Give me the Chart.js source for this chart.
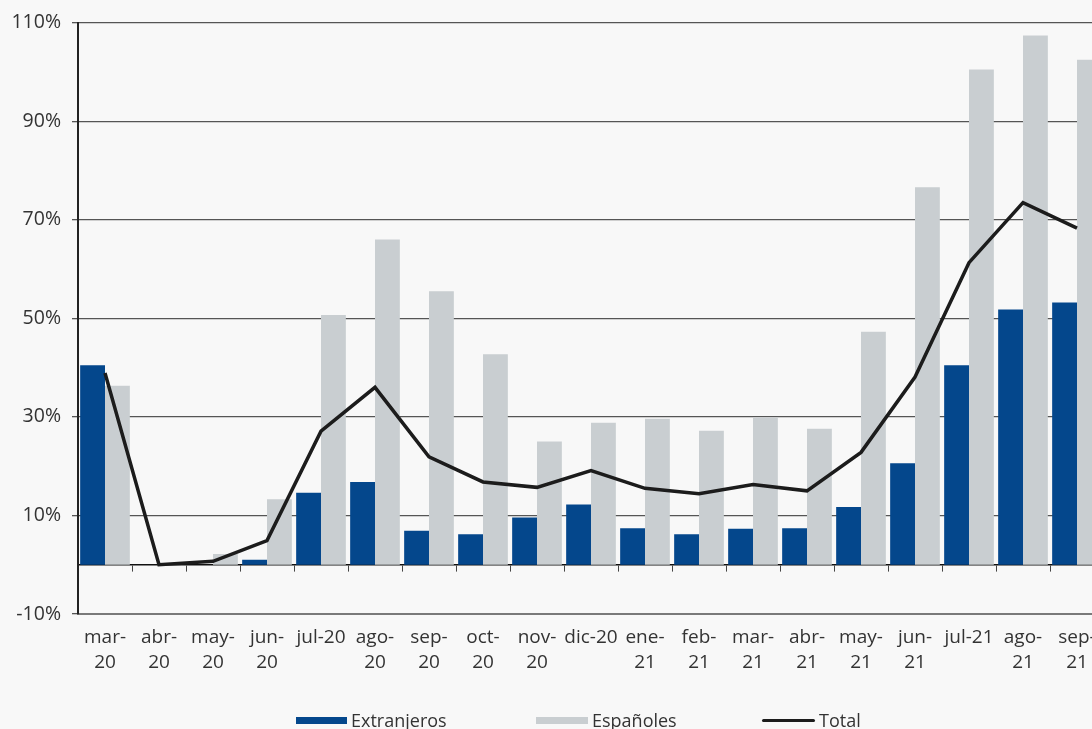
<!DOCTYPE html>
<html>
<head>
<meta charset="utf-8">
<script src="https://cdn.jsdelivr.net/npm/chart.js@4/dist/chart.umd.min.js"></script>
<style>
  html, body { margin: 0; padding: 0; background: #f8f8f8; overflow: hidden; width: 1092px; height: 729px; }
  #wrap { position: absolute; left: 0; top: 0; width: 1110px; height: 729px; }
  #legend { position: absolute; left: 0; top: 0; width: 1092px; height: 729px; pointer-events: none;
            font-family: "Open Sans", "Noto Sans", sans-serif; font-size: 18px; color: #333; }
  .sw { position: absolute; }
  .lt { position: absolute; top: 709px; line-height: 22px; white-space: nowrap; }
</style>
</head>
<body>
<div id="wrap"><canvas id="c" width="1110" height="729"></canvas></div>
<div id="legend"></div>
<script>
// ---- data ----
const categories = [
  ["mar-","20"], ["abr-","20"], ["may-","20"], ["jun-","20"], "jul-20", ["ago-","20"],
  ["sep-","20"], ["oct-","20"], ["nov-","20"], "dic-20", ["ene-","21"], ["feb-","21"],
  ["mar-","21"], ["abr-","21"], ["may-","21"], ["jun-","21"], "jul-21", ["ago-","21"], ["sep-","21"]
];
const extranjeros = [40.5, 0, 0, 1.0, 14.6, 16.8, 6.9, 6.2, 9.6, 12.2, 7.4, 6.2, 7.3, 7.4, 11.7, 20.6, 40.5, 51.8, 53.2];
const espanoles   = [36.3, 0, 2.2, 13.3, 50.7, 66.0, 55.5, 42.7, 25.0, 28.8, 29.6, 27.2, 29.9, 27.6, 47.3, 76.6, 100.5, 107.4, 102.5];
const total       = [38.9, 0, 0.7, 4.9, 27.1, 36.0, 21.9, 16.8, 15.7, 19.1, 15.5, 14.4, 16.3, 15.0, 22.8, 38.1, 61.3, 73.5, 68.3];
const yTicks = [-10, 10, 30, 50, 70, 90, 110];
const seriesNames = ["Extranjeros", "Españoles", "Total"];
const colors = { ext: "#04478c", esp: "#c9ced1", tot: "#1c1c1c" };

const FONT = '"Open Sans", "Noto Sans", sans-serif';

const chart = new Chart(document.getElementById('c'), {
  data: {
    labels: categories,
    datasets: [
      { type: 'line', label: seriesNames[2], data: total, borderColor: colors.tot, borderWidth: 3.5,
        pointRadius: 0, tension: 0, fill: false, order: 0, xAxisID: 'x', yAxisID: 'y',
        borderJoinStyle: 'miter' },
      { type: 'bar', label: seriesNames[0], data: extranjeros, backgroundColor: colors.ext,
        categoryPercentage: 0.92, barPercentage: 1.0, order: 1, xAxisID: 'x', yAxisID: 'y' },
      { type: 'bar', label: seriesNames[1], data: espanoles, backgroundColor: colors.esp,
        categoryPercentage: 0.92, barPercentage: 1.0, order: 1, xAxisID: 'x', yAxisID: 'y' }
    ]
  },
  options: {
    responsive: false,
    animation: false,
    layout: { padding: { top: 22, right: 6, left: 0, bottom: 0 } },
    plugins: { legend: { display: false }, tooltip: { enabled: false } },
    scales: {
      x: {
        type: 'category',
        position: 'bottom',
        offset: true,
        grid: { display: false, drawTicks: false },
        border: { display: true, color: '#7a7a7a', width: 2 },
        ticks: { font: { family: FONT, size: 19, lineHeight: 1.32 }, color: '#333',
                 maxRotation: 0, minRotation: 0, autoSkip: false, padding: 11 },
        afterFit: s => { s.height = 115; }
      },
      x2: {
        type: 'category',
        axis: 'x',
        position: { y: 0 },
        offset: true,
        grid: { display: true, drawOnChartArea: false, drawTicks: true, tickLength: 6,
                offset: true, color: '#444', lineWidth: 1 },
        border: { display: true, color: '#111', width: 1.6 },
        ticks: { display: false }
      },
      y: {
        type: 'linear',
        position: 'left',
        min: yTicks[0],
        max: yTicks[yTicks.length - 1],
        afterBuildTicks: s => { s.ticks = yTicks.map(v => ({ value: v })); },
        grid: { color: '#555', lineWidth: 1.3, drawTicks: true, tickLength: 6 },
        border: { display: true, color: '#222', width: 2 },
        ticks: { font: { family: FONT, size: 19.5 }, color: '#333', padding: 11,
                 callback: v => v + '%' },
        afterFit: s => { s.width = 78; }
      }
    }
  }
});

// ---- HTML legend ----
const lg = document.getElementById('legend');
const items = [
  { name: seriesNames[0], kind: 'box', color: colors.ext, x: 296, w: 51 },
  { name: seriesNames[1], kind: 'box', color: colors.esp, x: 536, w: 52 },
  { name: seriesNames[2], kind: 'line', color: colors.tot, x: 762, w: 53 }
];
items.forEach(it => {
  const sw = document.createElement('div');
  sw.className = 'sw';
  sw.style.left = it.x + 'px';
  sw.style.width = it.w + 'px';
  sw.style.background = it.color;
  if (it.kind === 'box') { sw.style.top = '717px'; sw.style.height = '7px'; }
  else { sw.style.top = '719px'; sw.style.height = '3px'; sw.style.borderRadius = '2px'; }
  lg.appendChild(sw);
  const t = document.createElement('div');
  t.className = 'lt';
  t.style.left = (it.x + it.w + 4) + 'px';
  t.textContent = it.name;
  lg.appendChild(t);
});
</script>
</body>
</html>
